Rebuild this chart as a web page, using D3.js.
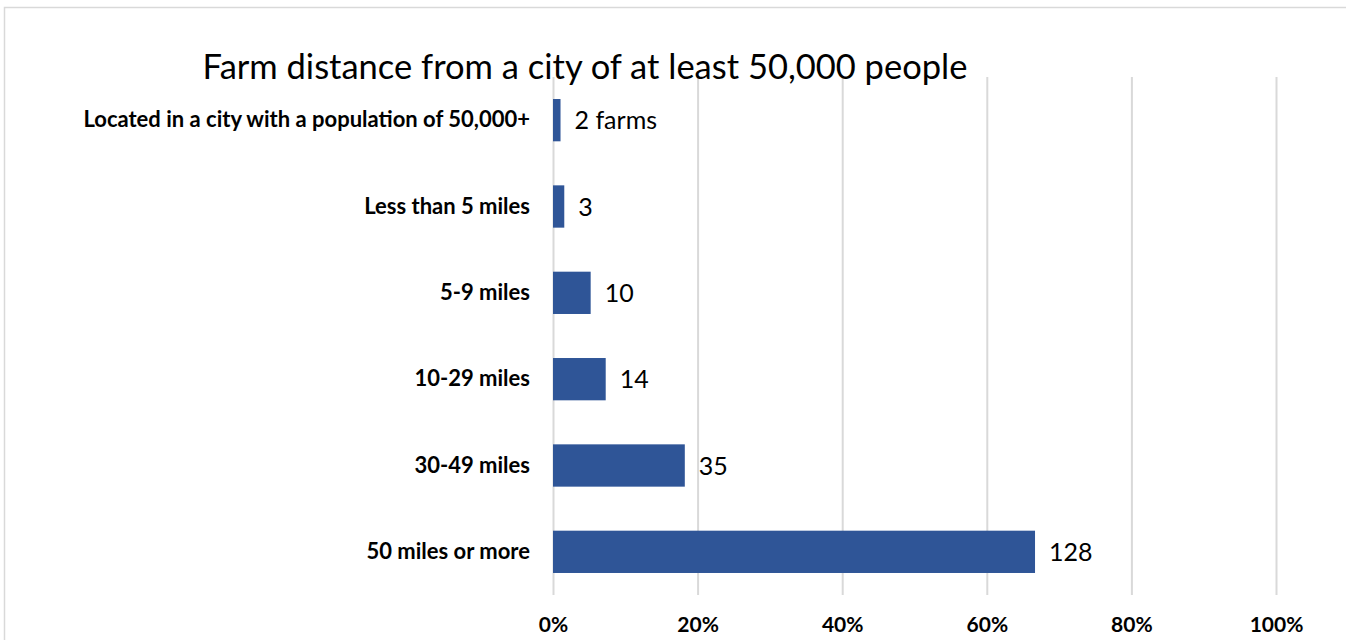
<!DOCTYPE html>
<html><head><meta charset="utf-8">
<script src="https://cdn.jsdelivr.net/npm/d3@7"></script>
<style>html,body{margin:0;padding:0;background:#fff;overflow:hidden}</style>
</head><body>
<svg id="chart" width="1346" height="640"></svg>
<script>
const categories = ["Located in a city with a population of 50,000+","Less than 5 miles","5-9 miles","10-29 miles","30-49 miles","50 miles or more"];
const percentages = [1.04, 1.56, 5.21, 7.29, 18.23, 66.67];
const valueLabels = ["2 farms","3","10","14","35","128"];
const tickValues = [0,20,40,60,80,100];
const titleText = "Farm distance from a city of at least 50,000 people";

const svg = d3.select("#chart");
const font = "Lato, 'Open Sans', sans-serif";
svg.append("rect").attr("x",4.5).attr("y",7.5).attr("width",1400).attr("height",700)
  .attr("fill","#fff").attr("stroke","#d9d9d9").attr("stroke-width",1.5);

const m = {left:553, right:1276, top:77, bottom:595};
const x = d3.scaleLinear().domain([0,100]).range([m.left,m.right]);
const y = d3.scaleBand().domain(categories).range([m.top,m.bottom]).paddingInner(0.51).paddingOuter(0.255);

const xAxis = d3.axisBottom(x).tickValues(tickValues).tickSize(m.bottom-m.top).tickFormat(d=>d+"%");
const gx = svg.append("g").attr("transform",`translate(0,${m.top})`).call(xAxis);
gx.select(".domain").remove();
gx.selectAll(".tick line").attr("stroke","#d9d9d9").attr("stroke-width",2);
gx.selectAll(".tick text").attr("y",m.bottom-m.top+22).attr("dy","0.71em")
  .attr("font-family",font).attr("font-weight","bold").attr("font-size",21).attr("fill","#000");

const yAxis = d3.axisLeft(y).tickSize(0).tickPadding(23);
const gy = svg.append("g").attr("transform",`translate(${m.left},0)`).call(yAxis);
gy.select(".domain").remove();
gy.selectAll(".tick text").attr("font-family",font).attr("font-weight","bold").attr("font-size",22).attr("fill","#000");

svg.append("g").selectAll("rect").data(categories).join("rect")
  .attr("x",x(0)).attr("y",d=>y(d)).attr("height",y.bandwidth())
  .attr("width",(d,i)=>x(percentages[i])-x(0)).attr("fill","#2F5597");

svg.append("g").selectAll("text").data(categories).join("text")
  .attr("x",(d,i)=>x(percentages[i])+14).attr("y",d=>y(d)+y.bandwidth()/2).attr("dy","0.36em")
  .attr("font-family",font).attr("font-size",25).attr("fill","#000")
  .text((d,i)=>valueLabels[i]);

svg.append("text").attr("x",585).attr("y",79).attr("text-anchor","middle")
  .attr("font-family",font).attr("font-size",34.5).attr("fill","#000").text(titleText);
</script>
</body></html>
